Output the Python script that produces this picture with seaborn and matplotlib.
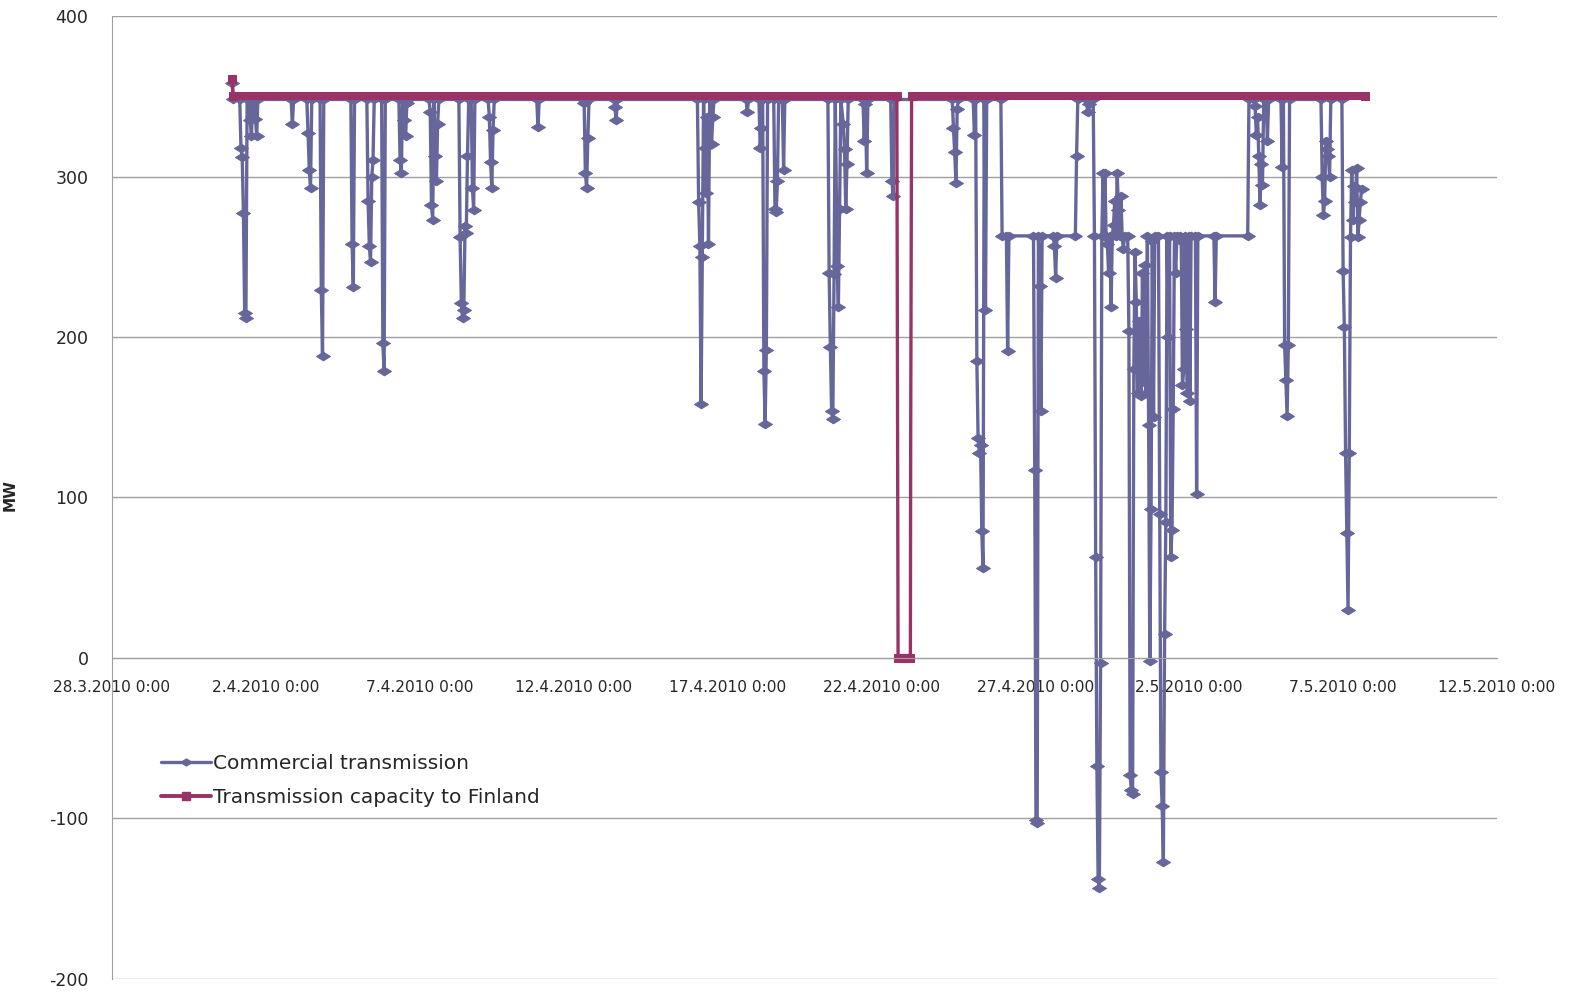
import pandas as pd
import numpy as np
import matplotlib.pyplot as plt
from matplotlib.lines import Line2D
import seaborn as sns

# start of the time axis
start_date = '2010-03-28'

# Commercial transmission: (days after 28.3.2010 0:00, MW)
commercial = [
    (3.90, 358), (3.94, 348),
    (4.15, 348), (4.19, 318), (4.23, 312), (4.27, 277), (4.31, 215), (4.35, 212), (4.39, 348),
    (4.45, 348), (4.49, 335), (4.53, 325), (4.57, 348),
    (4.62, 348), (4.66, 336), (4.70, 325), (4.74, 348),
    (5.82, 348), (5.86, 333), (5.90, 348),
    (6.33, 348), (6.37, 327), (6.41, 304), (6.45, 293), (6.49, 348),
    (6.76, 348), (6.80, 229), (6.84, 188), (6.88, 348),
    (7.76, 348), (7.80, 258), (7.84, 231), (7.88, 348),
    (8.28, 348), (8.32, 285), (8.36, 257), (8.40, 247), (8.44, 300), (8.48, 310), (8.52, 348),
    (8.76, 348), (8.80, 196), (8.84, 179), (8.88, 348),
    (9.32, 348), (9.36, 310), (9.40, 302), (9.44, 348), (9.50, 335), (9.54, 325), (9.58, 346), (9.62, 348),
    (10.30, 348), (10.34, 340), (10.38, 282), (10.42, 273), (10.46, 348), (10.50, 313), (10.54, 297),
    (10.58, 333), (10.62, 348),
    (11.27, 348), (11.31, 262), (11.35, 221), (11.39, 212), (11.43, 217), (11.47, 269), (11.51, 265),
    (11.55, 313), (11.59, 348), (11.67, 348), (11.71, 293), (11.75, 279), (11.79, 348),
    (12.22, 348), (12.26, 337), (12.30, 309), (12.34, 293), (12.38, 329), (12.42, 348),
    (13.80, 348), (13.84, 331), (13.88, 348),
    (15.30, 348), (15.34, 346), (15.38, 302), (15.42, 293), (15.46, 324), (15.50, 348),
    (16.30, 348), (16.34, 343), (16.38, 335), (16.42, 348),
    (19.02, 348), (19.06, 284), (19.10, 257), (19.14, 158), (19.18, 250), (19.22, 348), (19.26, 318),
    (19.30, 290), (19.34, 337), (19.38, 258), (19.42, 348), (19.48, 320), (19.52, 337), (19.56, 348),
    (20.60, 348), (20.64, 340), (20.68, 348),
    (21.02, 348), (21.06, 318), (21.10, 330), (21.14, 348), (21.18, 179), (21.22, 146), (21.26, 192),
    (21.30, 348), (21.50, 348), (21.54, 280), (21.58, 278), (21.62, 297), (21.66, 348),
    (21.78, 348), (21.82, 304), (21.86, 348),
    (23.26, 348), (23.30, 240), (23.34, 194), (23.38, 154), (23.42, 149), (23.46, 239), (23.50, 348),
    (23.56, 244), (23.60, 219), (23.64, 280), (23.68, 348), (23.76, 333), (23.80, 317), (23.84, 280),
    (23.88, 308), (23.92, 348),
    (24.40, 348), (24.44, 322), (24.48, 345), (24.52, 302), (24.56, 348),
    (25.30, 348), (25.34, 297), (25.38, 288), (25.42, 348),
    (27.30, 348), (27.34, 330), (27.38, 315), (27.42, 296), (27.46, 342), (27.50, 348),
    (27.98, 348), (28.02, 326), (28.06, 348), (28.10, 185), (28.14, 137), (28.18, 128), (28.22, 133),
    (28.26, 79), (28.30, 56), (28.34, 348), (28.38, 217), (28.42, 348),
    (28.88, 348), (28.92, 263), (29.06, 263), (29.10, 191), (29.14, 263),
    (29.94, 263), (29.98, 117), (30.02, -101), (30.06, -103), (30.10, 263), (30.14, 232), (30.18, 154),
    (30.22, 263),
    (30.58, 263), (30.62, 257), (30.66, 237), (30.70, 263),
    (31.30, 263), (31.34, 313), (31.38, 348),
    (31.66, 348), (31.70, 340), (31.74, 345), (31.78, 348),
    (31.88, 348), (31.92, 263), (31.96, 63), (32.00, -67), (32.04, -138), (32.08, -143), (32.12, -3),
    (32.16, 263), (32.20, 302), (32.24, 263),
    (32.26, 302), (32.30, 263), (32.34, 258), (32.38, 240), (32.42, 263), (32.46, 219), (32.50, 263),
    (32.54, 270), (32.58, 285), (32.62, 263), (32.66, 302), (32.70, 279), (32.74, 263), (32.78, 288),
    (32.82, 263), (32.86, 255), (32.90, 263),
    (33.00, 263), (33.04, 204), (33.08, -73), (33.12, -82), (33.16, -85), (33.20, 180), (33.24, 253),
    (33.28, 222), (33.32, 165), (33.36, 210), (33.40, 200), (33.44, 163), (33.48, 240), (33.52, 172),
    (33.56, 245), (33.60, 165), (33.64, 263), (33.68, 145), (33.72, -2), (33.76, 93), (33.80, 260),
    (33.84, 150), (33.88, 263),
    (34.00, 263), (34.04, 90), (34.08, -71), (34.12, -92), (34.16, -127), (34.20, 15), (34.24, 85),
    (34.28, 263), (34.32, 200), (34.36, 263), (34.40, 63), (34.44, 80), (34.48, 155), (34.52, 263),
    (34.56, 240), (34.60, 263),
    (34.70, 263), (34.74, 260), (34.78, 170), (34.82, 180), (34.86, 263), (34.90, 205), (34.94, 165),
    (34.98, 263), (35.02, 160), (35.06, 263), (35.20, 263), (35.24, 102), (35.28, 263),
    (35.80, 263), (35.84, 222), (35.88, 263),
    (36.90, 263), (36.94, 348),
    (37.10, 348), (37.14, 344), (37.18, 326), (37.22, 337), (37.26, 313), (37.30, 282), (37.34, 308),
    (37.38, 295), (37.42, 348), (37.50, 348), (37.54, 322), (37.58, 348),
    (37.98, 348), (38.02, 306), (38.06, 348), (38.10, 195), (38.14, 173), (38.18, 151), (38.22, 195),
    (38.26, 348),
    (39.28, 348), (39.32, 300), (39.36, 276), (39.40, 285), (39.44, 322), (39.48, 317), (39.52, 313),
    (39.56, 300), (39.60, 348),
    (39.96, 348), (40.00, 241), (40.04, 206), (40.08, 128), (40.12, 78), (40.16, 30), (40.20, 128),
    (40.24, 262), (40.28, 304), (40.32, 273), (40.36, 294), (40.40, 284), (40.44, 305), (40.48, 262),
    (40.52, 273), (40.56, 284), (40.60, 292),
]

# Transmission capacity to Finland
capacity = [
    (3.90, 361), (3.94, 350), (25.50, 350), (25.54, 0), (25.62, 0), (25.70, 0), (25.78, 0),
    (25.86, 0), (25.94, 0), (25.95, 137), (25.98, 350), (40.70, 350),
]

x_ticks = pd.date_range('2010-03-28', '2010-05-12', freq='5D')
y_ticks = [-200, -100, 0, 100, 200, 300, 400]

base = pd.Timestamp(start_date)
df_c = pd.DataFrame(commercial, columns=['day', 'MW'])
df_c['time'] = base + pd.to_timedelta(df_c['day'], unit='D')
df_f = pd.DataFrame(capacity, columns=['day', 'MW'])
df_f['time'] = base + pd.to_timedelta(df_f['day'], unit='D')

sns.set_style('white')
plt.rcParams['font.family'] = ['DejaVu Sans']

blue = '#66669a'
maroon = '#993366'
grid_col = '#a0a0a0'
diamond = [(-1, 0), (0, 0.62), (1, 0), (0, -0.62), (-1, 0)]

fig = plt.figure(figsize=(15.71, 9.94), dpi=100)
ax = fig.add_axes([0.0713, 0.0151, 0.8816, 0.9688])

sns.lineplot(data=df_c, x='time', y='MW', ax=ax, estimator=None, sort=False,
             color=blue, linewidth=2.4, marker=diamond, markersize=10,
             markeredgecolor=blue, markerfacecolor=blue)
# no square shows on the short step of the recovery
marks = [i for i in range(len(df_f)) if df_f['MW'].iloc[i] in (0, 350, 361)]
sns.lineplot(data=df_f, x='time', y='MW', ax=ax, estimator=None, sort=False,
             color=maroon, linewidth=2.4, marker='s', markersize=6, markevery=marks,
             markeredgecolor=maroon, markerfacecolor=maroon)
# the hourly squares at full capacity merge into a thick band
band = df_f['MW'].where(df_f['MW'] == 350, np.nan)
ax.plot(df_f['time'], band, color=maroon, linewidth=5.8, solid_capstyle='butt')

ax.set_xlim(x_ticks[0], x_ticks[-1])
ax.set_ylim(-200, 400)
ax.set_yticks(y_ticks)
ax.set_xticks(x_ticks)
ax.set_xticklabels([f'{d.day}.{d.month}.{d.year} 0:00' for d in x_ticks])
ax.set_yticklabels([str(v) for v in y_ticks])
ax.tick_params(axis='both', length=0)
ax.tick_params(axis='y', pad=17, labelsize=12.5)
ax.tick_params(axis='x', pad=16, labelsize=11.1)
ax.yaxis.grid(True, color=grid_col, linewidth=1.0)
ax.set_axisbelow(True)

for s in ['top', 'right']:
    ax.spines[s].set_visible(False)
ax.spines['left'].set_color(grid_col)
ax.spines['bottom'].set_position(('data', 0))
ax.spines['bottom'].set_color(grid_col)

ax.set_xlabel('')
ax.set_ylabel('MW', fontsize=11, fontweight='bold')
ax.yaxis.set_label_coords(-0.068, 0.503)

handles = [
    Line2D([], [], color=blue, linewidth=2.4, marker=diamond, markersize=8),
    Line2D([], [], color=maroon, linewidth=2.8, marker='s', markersize=6),
]
ax.legend(handles, ['Commercial transmission', 'Transmission capacity to Finland'],
          loc='upper left', bbox_to_anchor=(0.022, 0.252), frameon=False,
          fontsize=14.5, handlelength=2.5, handletextpad=0.12, labelspacing=0.72)

fig.savefig('out.png', dpi=100)
